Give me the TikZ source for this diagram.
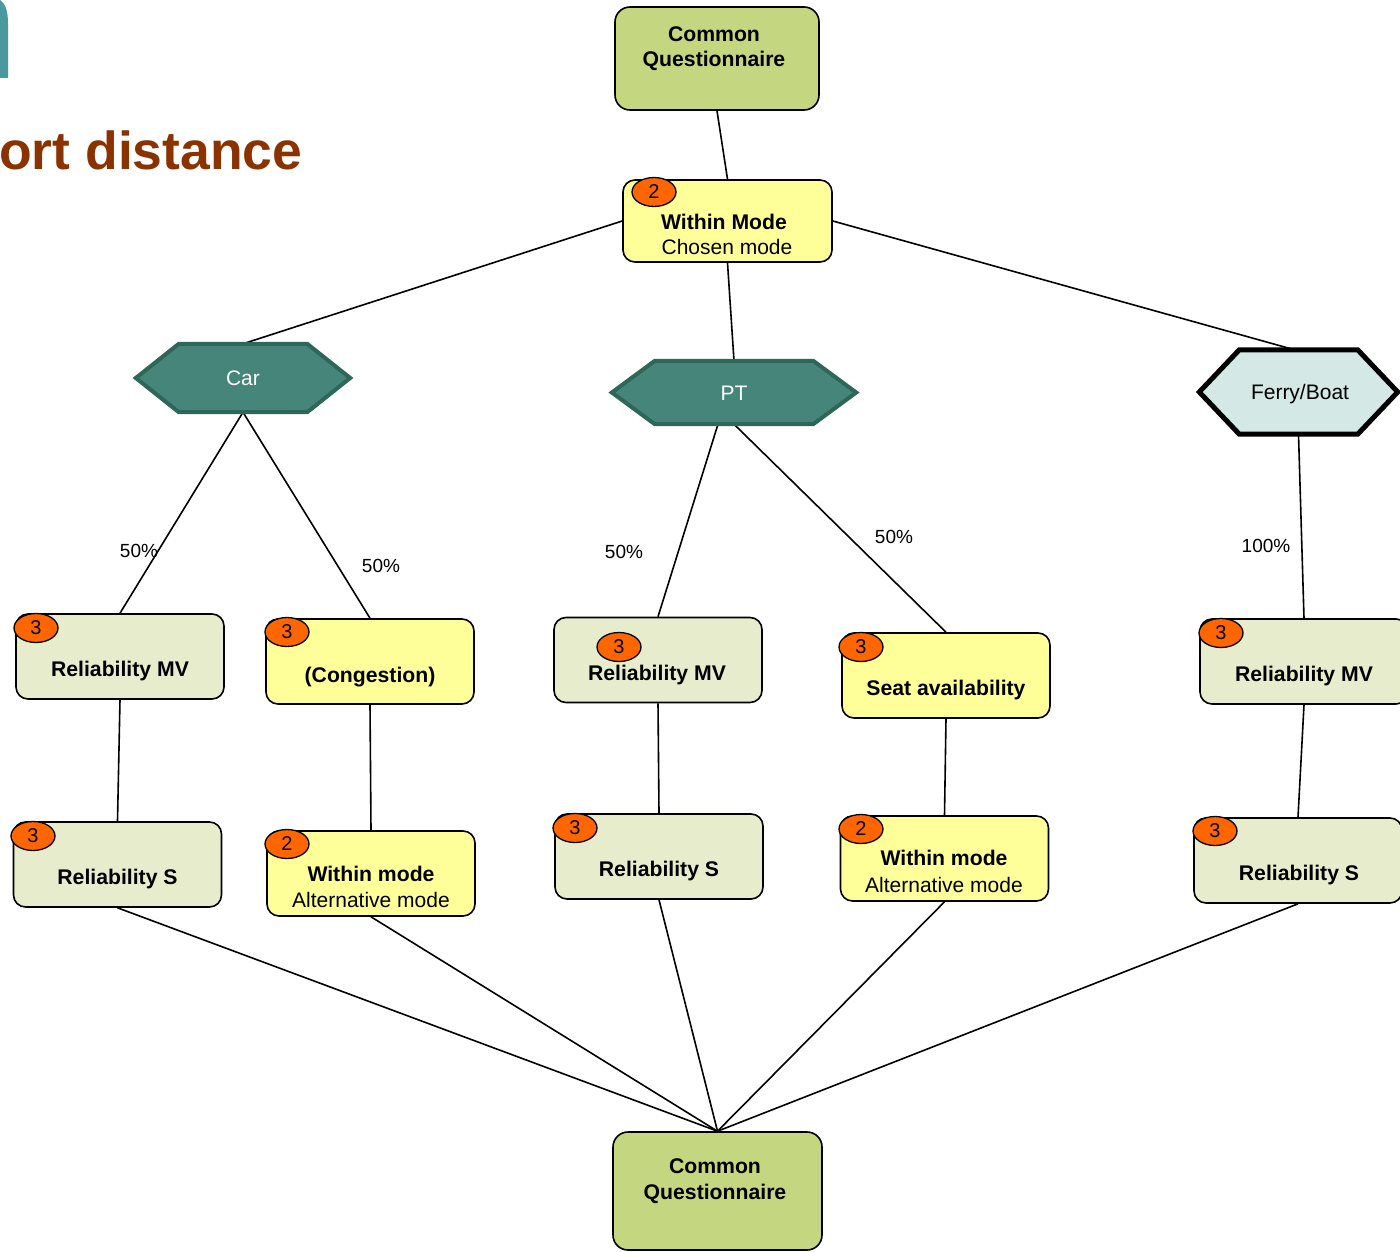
\documentclass[tikz,border=0pt]{standalone}
\usepackage{fontspec}
\setmainfont{Liberation Sans}
\usetikzlibrary{shapes.geometric,backgrounds,calc}

\definecolor{olive}{HTML}{C4D67F}
\definecolor{paleyellow}{HTML}{FFFF99}
\definecolor{palegreen}{HTML}{E7EDCC}
\definecolor{tealfill}{HTML}{468579}
\definecolor{tealedge}{HTML}{2E6658}
\definecolor{ferryfill}{HTML}{D4E9E5}
\definecolor{badgeorange}{HTML}{FF6600}
\definecolor{titlebrown}{HTML}{8B3300}
\definecolor{logoteal}{HTML}{4A999E}

\newcommand\fs[1]{\fontsize{#1}{#1}\selectfont}
% hexagon outline drawn around a named placeholder node
\newcommand\hexoutline[3]{%
  \path[#3] (#1.west) -- ([xshift=#2]#1.north west) -- ([xshift=-#2]#1.north east)
    -- (#1.east) -- ([xshift=-#2]#1.south east) -- ([xshift=#2]#1.south west) -- cycle;}

\tikzset{
  box/.style={rectangle, rounded corners=12pt, draw=black, line width=1.6pt,
    minimum width=208pt, minimum height=85pt, inner sep=0pt},
  greenbox/.style={box, fill=palegreen},
  yellowbox/.style={box, fill=paleyellow},
  cqbox/.style={box, fill=olive, rounded corners=15pt},
  hexholder/.style={rectangle, inner sep=0pt},
  badge/.style={ellipse, draw=black, line width=1.3pt, fill=badgeorange,
    minimum width=44pt, minimum height=29pt, inner sep=0pt, font=\fs{20}},
  boldtxt/.style={anchor=base, inner sep=0pt, font=\fs{21.2}\bfseries},
  plaintxt/.style={anchor=base, inner sep=0pt, font=\fs{21}},
  pct/.style={anchor=base, inner sep=0pt, font=\fs{19}},
  link/.style={line width=1.6pt, black},
}

\begin{document}
\begin{tikzpicture}[x=1pt,y=-1pt]
\useasboundingbox (0,0) rectangle (1400,1252);

% header fragments
\fill[logoteal] (-10,0) -- (0,0) .. controls (6,4) and (8,12) .. (8,24) -- (8,78) -- (-10,78) -- cycle;
\node[anchor=base west, inner sep=0pt, text=titlebrown, font=\fs{53.5}\bfseries] (title) at (-1,170) {ort distance};

% top questionnaire and chosen mode
\node[cqbox, minimum width=204pt, minimum height=103pt] (cqtop) at (717,58.5) {};
\node[boldtxt] (cqtop-a) at (714,41.5) {Common};
\node[boldtxt] (cqtop-b) at (714,66.5) {Questionnaire};

\node[yellowbox, minimum width=209pt, minimum height=82pt] (wm) at (727.5,221) {};
\node[badge] (wm-b) at (654,192) {2};
\node[boldtxt] (wm-a) at (724,229.5) {Within Mode};
\node[plaintxt] (wm-c) at (727,254.5) {Chosen mode};

% mode hexagons
\node[hexholder, minimum width=214pt, minimum height=68pt] (car) at (243,378) {};
\hexoutline{car}{43pt}{fill=tealfill, draw=tealedge, line width=4pt, line join=miter}
\node[plaintxt, text=white] (car-t) at (243,385.5) {Car};

\node[hexholder, minimum width=244pt, minimum height=63pt] (pt) at (734,392.5) {};
\hexoutline{pt}{43pt}{fill=tealfill, draw=tealedge, line width=4pt, line join=miter}
\node[plaintxt, text=white] (pt-t) at (734,400.5) {PT};

\node[hexholder, minimum width=198pt, minimum height=84pt] (ferry) at (1298.5,392) {};
\hexoutline{ferry}{40pt}{fill=ferryfill, draw=black, line width=5pt, line join=miter}
\node[plaintxt] (ferry-t) at (1300,399.5) {Ferry/Boat};

% first attribute row
\node[greenbox] (rmv1) at (120,656.5) {};
\node[badge] (rmv1-b) at (36,628) {3};
\node[boldtxt] (rmv1-t) at (120,676.5) {Reliability MV};

\node[yellowbox] (cong) at (370,661.5) {};
\node[badge] (cong-b) at (287,632) {3};
\node[boldtxt] (cong-t) at (370,682.5) {(Congestion)};

\node[greenbox] (ptmv) at (658,660) {};
\node[badge] (ptmv-b) at (619,647) {3};
\node[boldtxt] (ptmv-t) at (657,680.5) {Reliability MV};

\node[yellowbox] (seat) at (946,675.5) {};
\node[badge] (seat-b) at (861,647) {3};
\node[boldtxt] (seat-t) at (946,695.5) {Seat availability};

\node[greenbox] (fmv) at (1304,661.5) {};
\node[badge] (fmv-b) at (1221,633) {3};
\node[boldtxt] (fmv-t) at (1304,681.5) {Reliability MV};

% second attribute row
\node[greenbox] (rs1) at (117.5,864.5) {};
\node[badge] (rs1-b) at (33,836) {3};
\node[boldtxt] (rs1-t) at (117.5,884.5) {Reliability S};

\node[yellowbox] (wmalt1) at (371,873.5) {};
\node[badge] (wmalt1-b) at (287,844) {2};
\node[boldtxt] (wmalt1-a) at (371,881.5) {Within mode};
\node[plaintxt] (wmalt1-c) at (371,907.5) {Alternative mode};

\node[greenbox] (pts) at (659,856.5) {};
\node[badge] (pts-b) at (575,828) {3};
\node[boldtxt] (pts-t) at (659,876.5) {Reliability S};

\node[yellowbox] (wmalt2) at (944.5,858.5) {};
\node[badge] (wmalt2-b) at (861,829) {2};
\node[boldtxt] (wmalt2-a) at (944,865.5) {Within mode};
\node[plaintxt] (wmalt2-c) at (944,892.5) {Alternative mode};

\node[greenbox] (fs) at (1298,860.5) {};
\node[badge] (fs-b) at (1215,831) {3};
\node[boldtxt] (fs-t) at (1299,880.5) {Reliability S};

% bottom questionnaire
\node[cqbox, minimum width=209pt, minimum height=118pt] (cqbot) at (717.5,1191) {};
\node[boldtxt] (cqbot-a) at (715,1173.5) {Common};
\node[boldtxt] (cqbot-b) at (715,1199.5) {Questionnaire};

% share labels
\node[pct] (p1) at (139,557) {50\%};
\node[pct] (p2) at (381,572) {50\%};
\node[pct] (p3) at (624,558) {50\%};
\node[pct] (p4) at (894,543) {50\%};
\node[pct] (p5) at (1266,552) {100\%};

% connectors
\begin{scope}[on background layer]
\draw[link] (cqtop.south) -- (wm.north);
\draw[link] (wm.west) -- (car.north);
\draw[link] (wm.south) -- (pt.north);
\draw[link] (wm.east) -- ([xshift=-4pt]ferry.north);
\draw[link] (car.south) -- (rmv1.north);
\draw[link] (car.south) -- (cong.north);
\draw[link] ([xshift=-16pt]pt.south) -- (ptmv.north);
\draw[link] (pt.south) -- (seat.north);
\draw[link] (ferry.south) -- (fmv.north);
\draw[link] (rmv1.south) -- (rs1.north);
\draw[link] (cong.south) -- (wmalt1.north);
\draw[link] (ptmv.south) -- (pts.north);
\draw[link] (seat.south) -- (wmalt2.north);
\draw[link] (fmv.south) -- (fs.north);
\foreach \src in {rs1,wmalt1,pts,wmalt2,fs}
  \draw[link] (\src.south) -- (cqbot.north);
\end{scope}
\end{tikzpicture}
\end{document}
